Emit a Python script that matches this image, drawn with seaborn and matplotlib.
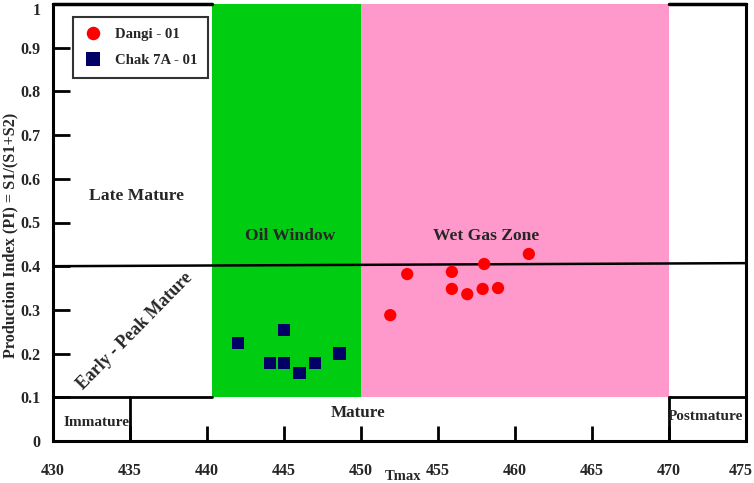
import matplotlib
matplotlib.use("Agg")
import matplotlib.pyplot as plt
import matplotlib.transforms as mtransforms
import seaborn as sns
import pandas as pd

# Rock-Eval data
dangi_tmax = [451.9, 453.0, 455.9, 455.9, 456.9, 457.9, 458.0, 458.9, 460.9]
dangi_pi = [0.288, 0.382, 0.387, 0.348, 0.336, 0.348, 0.405, 0.350, 0.428]
chak_tmax = [442.0, 444.1, 445.0, 445.0, 446.0, 447.0, 448.6]
chak_pi = [0.224, 0.178, 0.254, 0.178, 0.156, 0.178, 0.200]

x_ticks = [430, 435, 440, 445, 450, 455, 460, 465, 470, 475]
y_ticks = [0, 0.1, 0.2, 0.3, 0.4, 0.5, 0.6, 0.7, 0.8, 0.9, 1]
y_tick_labels = ["0", "0.1", "0.2", "0.3", "0.4", "0.5", "0.6", "0.7", "0.8", "0.9", "1"]

df = pd.concat([
    pd.DataFrame({"Tmax": dangi_tmax, "PI": dangi_pi, "well": "Dangi - 01"}),
    pd.DataFrame({"Tmax": chak_tmax, "PI": chak_pi, "well": "Chak 7A - 01"}),
], ignore_index=True)

sns.set_style("white")
plt.rcParams["font.family"] = ["Liberation Serif", "DejaVu Serif"]
plt.rcParams["font.weight"] = "bold"

fig = plt.figure(figsize=(7.54, 4.83), dpi=100)
ax = fig.add_axes([53 / 754, 42 / 483, 693 / 754, 437 / 483])

green = "#00CC11"
pink = "#FF99CC"
ax.fill_between([440.3, 450], 0.1, 1, color=green, lw=0, zorder=0)
ax.fill_between([450, 470], 0.1, 1, color=pink, lw=0, zorder=0)

# zone boundaries
ax.plot([430, 475], [0.400, 0.407], color="black", lw=1.8, zorder=2)
ax.plot([430, 440.3], [0.1, 0.1], color="black", lw=2, zorder=2)
ax.plot([470, 475], [0.1, 0.1], color="black", lw=2, zorder=2)
ax.plot([435, 435], [0, 0.1], color="black", lw=2, zorder=2)
ax.plot([470, 470], [0, 0.1], color="black", lw=2, zorder=2)
ax.plot([430, 440.3], [1, 1], color="black", lw=2.5, zorder=2, clip_on=False)
ax.plot([470, 475], [1, 1], color="black", lw=2.5, zorder=2, clip_on=False)

sns.scatterplot(data=df, x="Tmax", y="PI", hue="well", style="well",
                palette={"Dangi - 01": "#FF0000", "Chak 7A - 01": "#000066"},
                markers={"Dangi - 01": "o", "Chak 7A - 01": "s"},
                s=78, linewidth=0, ax=ax, zorder=3)

# zone labels
ax.text(435.4, 0.56, "Late Mature", fontsize=12.6, fontweight="bold", ha="center", va="center")
ax.text(445.4, 0.47, "Oil Window", fontsize=12.6, fontweight="bold", ha="center", va="center")
ax.text(458.1, 0.47, "Wet Gas Zone", fontsize=12.6, fontweight="bold", ha="center", va="center")
ax.text(435.3, 0.252, "Early - Peak Mature", fontsize=12.8, fontweight="bold",
        ha="center", va="center", rotation=45.5)
ax.text(432.8, 0.043, "Immature", fontsize=11, fontweight="bold", ha="center", va="center")
ax.text(449.8, 0.064, "Mature", fontsize=12.3, fontweight="bold", ha="center", va="center")
ax.text(472.4, 0.057, "Postmature", fontsize=11, fontweight="bold", ha="center", va="center")

ax.set_xlim(430, 475)
ax.set_ylim(0, 1)
ax.set_xticks(x_ticks)
ax.set_xticklabels([str(t) for t in x_ticks])
ax.set_yticks(y_ticks)
ax.set_yticklabels(y_tick_labels)
ax.tick_params(axis="x", bottom=True, direction="in", length=11, width=2, pad=16,
               labelsize=11.5, color="black")
ax.tick_params(axis="y", left=True, direction="in", length=12, width=2, pad=9,
               labelsize=11.5, color="black")
for lab in ax.get_xticklabels() + ax.get_yticklabels():
    lab.set_fontweight("bold")
# edge labels sit against the figure border, nudge them inwards
last = ax.get_xticklabels()[-1]
last.set_transform(last.get_transform() + mtransforms.ScaledTranslation(-5 / 100, 0, fig.dpi_scale_trans))
top = ax.get_yticklabels()[-1]
top.set_transform(top.get_transform() + mtransforms.ScaledTranslation(0, -5 / 100, fig.dpi_scale_trans))

for side in ["left", "bottom", "right"]:
    ax.spines[side].set_linewidth(2.2)
    ax.spines[side].set_color("black")
ax.spines["top"].set_visible(False)

ax.set_xlabel("Tmax", fontsize=10.5, fontweight="bold")
ax.xaxis.set_label_coords(0.505, -0.066)
ax.set_ylabel("Production Index (PI) = S1/(S1+S2)", fontsize=11.7, fontweight="bold")
ax.yaxis.set_label_coords(-0.0505, 0.471)

leg = ax.legend(loc="upper left", bbox_to_anchor=(0.029, 0.970), frameon=True,
                fancybox=False, prop={"weight": "bold", "size": 10.6},
                handletextpad=0.9, handlelength=1.2, borderpad=0.75,
                labelspacing=0.85, borderaxespad=0, markerscale=1.1)
leg.get_frame().set_edgecolor("black")
leg.get_frame().set_linewidth(1.5)
leg.set_title(None)

fig.savefig("out.png", dpi=100)
